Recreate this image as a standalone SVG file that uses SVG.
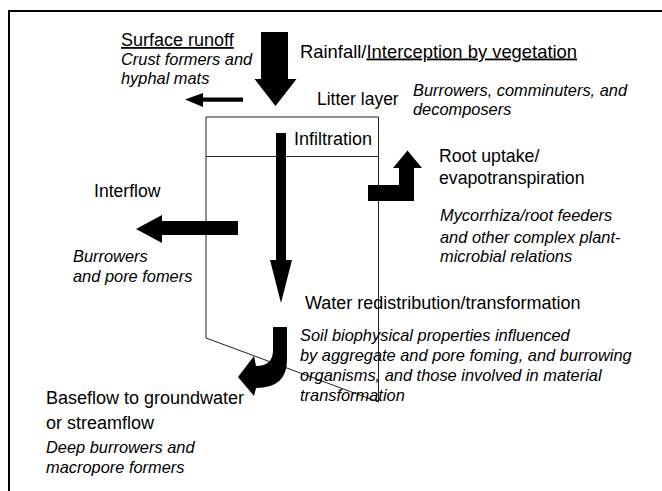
<svg xmlns="http://www.w3.org/2000/svg" width="662" height="491" viewBox="0 0 662 491">
<style>
text{font-family:"Liberation Sans",Arial,sans-serif;fill:#000}
.lb{font-size:18px}
.it{font-size:16.4px;font-style:italic}
.ul{text-decoration:underline}
.arrow{fill:#000;stroke:none}
.profile{fill:none;stroke:#222;stroke-width:1}
.frame{fill:none;stroke:#000;stroke-width:2}
</style>
<rect width="662" height="491" fill="#fff"/>
<path class="frame" d="M9 491 V11 H662"/>
<g id="soil-profile">
<path class="profile" d="M206 117 H378.5 V402 L206 338 Z"/>
<line class="profile" x1="206" y1="156.5" x2="378.5" y2="156.5"/>
</g>
<g id="connectors">
<polygon id="rainfall-arrow" class="arrow" points="261,32 288,32 288,79 296.5,79 275.5,106 254.5,79 261,79"/>
<polygon id="runoff-arrow" class="arrow" points="243,97.5 243,101.7 203,101.7 203,107 185,99.5 203,93 203,97.5"/>
<polygon id="infiltration-arrow" class="arrow" points="276,133 286,133 286,260 292,260 281,303 270,260 276,260"/>
<polygon id="interflow-arrow" class="arrow" points="238,221 238,235 162,235 162,243 136,229 162,215 162,221"/>
<polygon id="root-arrow" class="arrow" points="368,185 399,185 399,168 393,168 407.5,150.5 422,168 414,168 414,201 368,201"/>
<path id="baseflow-arrow" class="arrow" d="M273 327 L287 327 L287 360 Q287 388 256 388 L254 396 L238 377 L254 356 L256 366 Q273 366 273 350 Z"/>
</g>
<g id="surface-runoff">
<text class="lb" x="121" y="46"><tspan class="ul">Surface runoff</tspan></text>
<text class="it" x="121" y="65">Crust formers and</text>
<text class="it" x="121" y="84">hyphal mats</text>
</g>
<g id="rainfall">
<text class="lb" x="300" y="57.5" style="font-size:18.4px">Rainfall/<tspan class="ul">Interception by vegetation</tspan></text>
</g>
<g id="litter-layer">
<text class="lb" x="317" y="104.5" style="font-size:17.5px">Litter layer</text>
<text class="it" x="413" y="96">Burrowers, comminuters, and</text>
<text class="it" x="413" y="115">decomposers</text>
</g>
<g id="infiltration">
<text class="lb" x="294" y="145">Infiltration</text>
</g>
<g id="root-uptake">
<text class="lb" x="439" y="161.5" style="font-size:17.7px">Root uptake/</text>
<text class="lb" x="439" y="183.5" style="font-size:17.7px">evapotranspiration</text>
<text class="it" x="440" y="221">Mycorrhiza/root feeders</text>
<text class="it" x="440" y="242.5">and other complex plant-</text>
<text class="it" x="440" y="262">microbial relations</text>
</g>
<g id="interflow">
<text class="lb" x="94" y="197" style="font-size:17.6px">Interflow</text>
<text class="it" x="73" y="262">Burrowers</text>
<text class="it" x="73" y="282">and pore fomers</text>
</g>
<g id="water-redistribution">
<text class="lb" x="305" y="308.5">Water redistribution/transformation</text>
<text class="it" x="300" y="341">Soil biophysical properties influenced</text>
<text class="it" x="300" y="360.5">by aggregate and pore foming, and burrowing</text>
<text class="it" x="300" y="380.5">organisms, and those involved in material</text>
<text class="it" x="300" y="400.5">transformation</text>
</g>
<g id="baseflow">
<text class="lb" x="46" y="404">Baseflow to groundwater</text>
<text class="lb" x="46" y="428.5">or streamflow</text>
<text class="it" x="46" y="452.5">Deep burrowers and</text>
<text class="it" x="46" y="473">macropore formers</text>
</g>
</svg>
